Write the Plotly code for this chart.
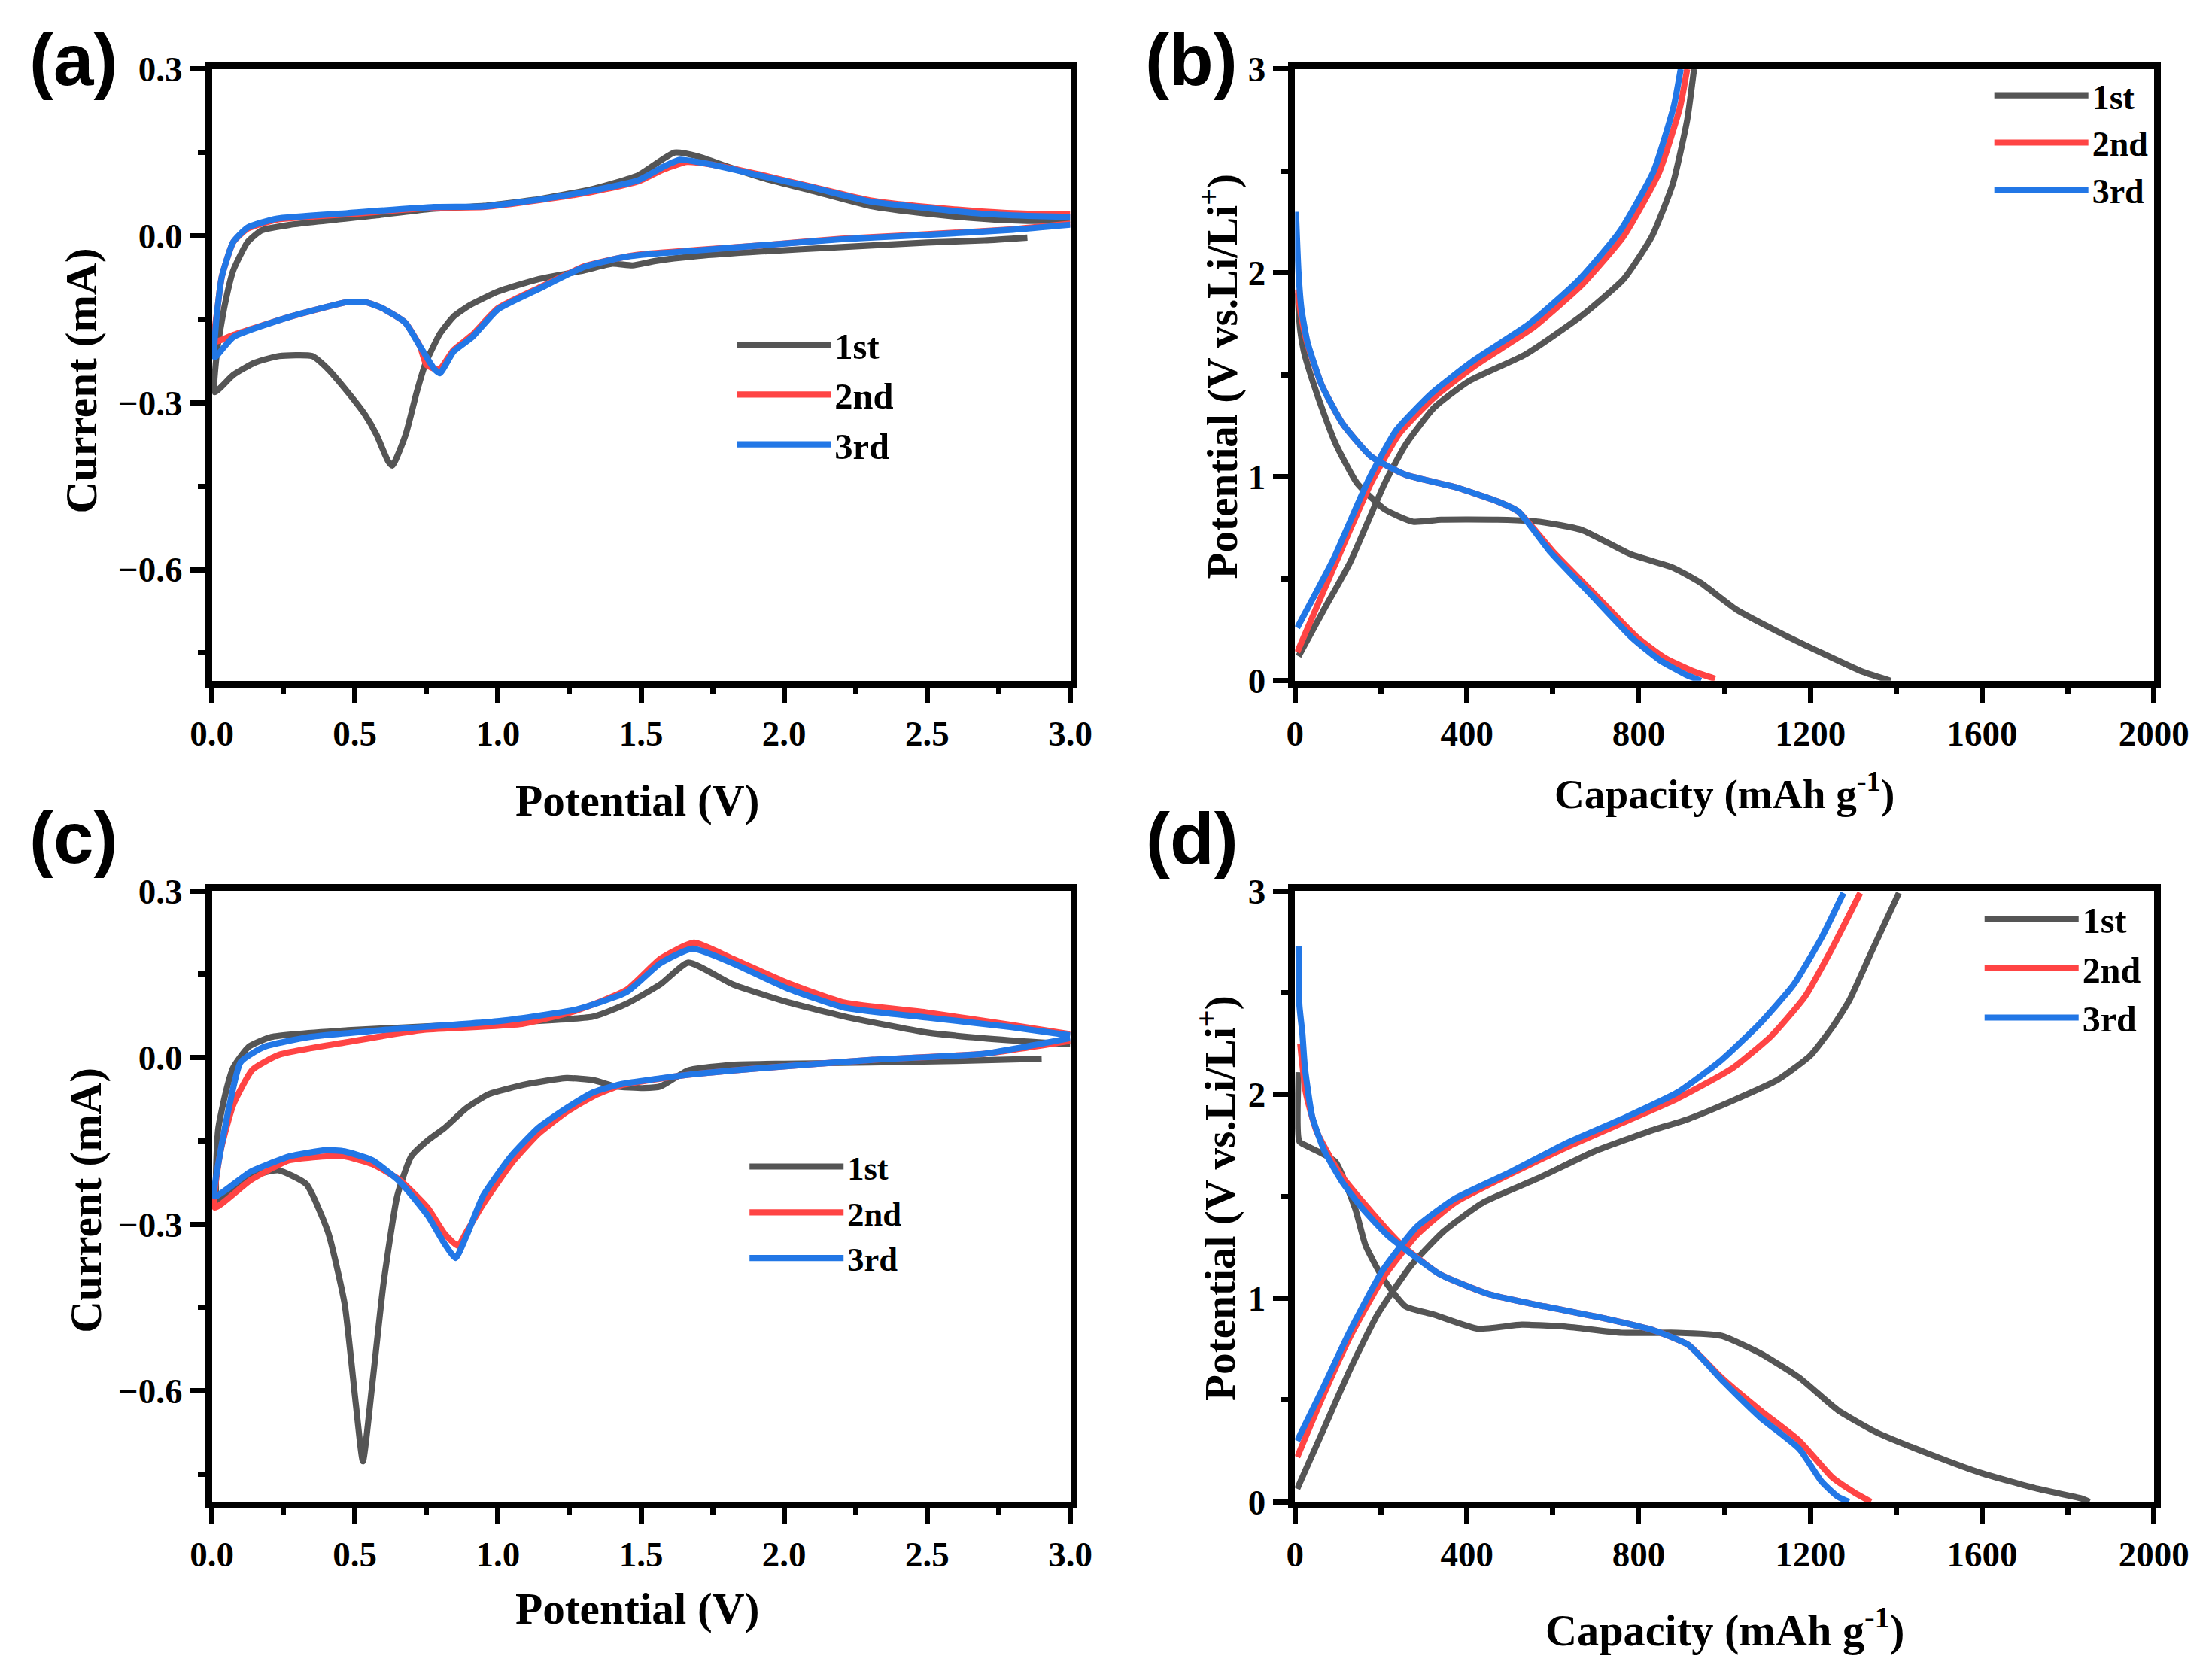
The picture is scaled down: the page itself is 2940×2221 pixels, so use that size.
import plotly.graph_objects as go

# ---------------- DATA ----------------
# Panel (a): CV curves (potential V, current mA); cathodic scan then anodic scan
a1_v = [2.85, 2.7, 2.5, 2.2, 1.92, 1.7, 1.55, 1.47, 1.40, 1.3, 1.14, 1.0, 0.9, 0.845, 0.797, 0.747, 0.716, 0.677, 0.631, 0.616, 0.576, 0.536, 0.475, 0.405, 0.35, 0.235, 0.15, 0.075, 0.01,
        0.02, 0.045, 0.075, 0.125, 0.174, 0.275, 0.576, 0.755, 0.95, 1.14, 1.336, 1.49, 1.617, 1.7, 1.8, 1.92, 2.1, 2.3, 2.5, 2.69, 2.85, 3.0]
a1_i = [-0.003, -0.008, -0.012, -0.02, -0.028, -0.036, -0.045, -0.053, -0.05, -0.062, -0.078, -0.10, -0.125, -0.145, -0.176, -0.229, -0.281, -0.358, -0.413, -0.405, -0.358, -0.322, -0.281, -0.239, -0.216, -0.216, -0.228, -0.25, -0.281,
        -0.2, -0.125, -0.062, -0.011, 0.01, 0.02, 0.037, 0.048, 0.054, 0.066, 0.085, 0.109, 0.150, 0.143, 0.125, 0.105, 0.081, 0.054, 0.04, 0.031, 0.027, 0.028]

a2_v = [3.0, 2.8, 2.5, 2.2, 1.92, 1.7, 1.5, 1.43, 1.3, 1.14, 1.0, 0.91, 0.845, 0.80, 0.785, 0.75, 0.727, 0.676, 0.596, 0.536, 0.475, 0.275, 0.075, 0.01,
        0.02, 0.035, 0.075, 0.125, 0.225, 0.475, 0.777, 0.95, 1.14, 1.336, 1.49, 1.58, 1.66, 1.75, 1.92, 2.1, 2.3, 2.5, 2.69, 2.85, 3.0]
a2_i = [0.022, 0.012, 0.003, -0.005, -0.017, -0.025, -0.033, -0.039, -0.055, -0.094, -0.13, -0.178, -0.205, -0.238, -0.24, -0.232, -0.198, -0.156, -0.13, -0.119, -0.119, -0.145, -0.178, -0.19,
        -0.13, -0.073, -0.011, 0.013, 0.029, 0.039, 0.051, 0.052, 0.064, 0.08, 0.098, 0.12, 0.133, 0.128, 0.11, 0.088, 0.064, 0.052, 0.044, 0.04, 0.04]

a3_v = [3.0, 2.8, 2.5, 2.2, 1.92, 1.7, 1.5, 1.43, 1.3, 1.14, 1.0, 0.91, 0.845, 0.797, 0.777, 0.727, 0.676, 0.596, 0.536, 0.475, 0.275, 0.075, 0.01,
        0.015, 0.035, 0.075, 0.125, 0.225, 0.475, 0.777, 0.95, 1.14, 1.336, 1.49, 1.58, 1.636, 1.75, 1.92, 2.1, 2.3, 2.5, 2.69, 2.85, 3.0]
a3_i = [0.02, 0.011, 0.002, -0.006, -0.017, -0.026, -0.034, -0.039, -0.056, -0.096, -0.132, -0.182, -0.208, -0.247, -0.239, -0.198, -0.156, -0.13, -0.119, -0.119, -0.145, -0.182, -0.218,
        -0.155, -0.073, -0.011, 0.015, 0.031, 0.041, 0.052, 0.053, 0.065, 0.082, 0.1, 0.125, 0.137, 0.128, 0.108, 0.087, 0.062, 0.05, 0.04, 0.036, 0.034]

# Panel (c): CV curves
c1_v = [2.9, 2.6, 2.3, 2.0, 1.82, 1.665, 1.568, 1.51, 1.41, 1.336, 1.24, 1.10, 0.968, 0.89, 0.813, 0.755, 0.697, 0.648, 0.60, 0.561, 0.528, 0.503, 0.464, 0.406, 0.33, 0.232, 0.15, 0.07, 0.019,
        0.022, 0.05, 0.075, 0.128, 0.208, 0.475, 0.742, 1.077, 1.336, 1.45, 1.568, 1.665, 1.82, 2.01, 2.21, 2.5, 2.79, 3.0]
c1_i = [-0.002, -0.006, -0.009, -0.011, -0.013, -0.023, -0.052, -0.055, -0.052, -0.041, -0.037, -0.048, -0.066, -0.091, -0.127, -0.149, -0.178, -0.249, -0.407, -0.587, -0.727, -0.623, -0.443, -0.314, -0.228, -0.203, -0.212, -0.235, -0.257,
        -0.13, -0.06, -0.018, 0.019, 0.037, 0.049, 0.056, 0.064, 0.074, 0.097, 0.132, 0.171, 0.132, 0.10, 0.074, 0.045, 0.031, 0.024]

c2_v = [3.0, 2.7, 2.31, 1.92, 1.665, 1.43, 1.336, 1.24, 1.14, 1.045, 0.948, 0.89, 0.86, 0.813, 0.755, 0.658, 0.561, 0.464, 0.40, 0.271, 0.135, 0.01,
        0.03, 0.075, 0.142, 0.235, 0.475, 0.742, 1.077, 1.277, 1.45, 1.568, 1.685, 1.82, 2.01, 2.21, 2.5, 2.79, 3.0]
c2_i = [0.03, 0.007, -0.004, -0.019, -0.031, -0.05, -0.069, -0.098, -0.138, -0.192, -0.264, -0.314, -0.339, -0.317, -0.271, -0.221, -0.192, -0.178, -0.178, -0.185, -0.221, -0.27,
        -0.17, -0.085, -0.022, 0.005, 0.028, 0.05, 0.06, 0.085, 0.122, 0.178, 0.207, 0.178, 0.135, 0.099, 0.081, 0.059, 0.042]

c3_v = [3.0, 2.7, 2.31, 1.92, 1.665, 1.43, 1.336, 1.24, 1.14, 1.045, 0.948, 0.89, 0.852, 0.813, 0.755, 0.658, 0.561, 0.464, 0.397, 0.271, 0.135, 0.01,
        0.03, 0.062, 0.101, 0.182, 0.342, 0.609, 1.01, 1.277, 1.45, 1.568, 1.68, 1.82, 2.01, 2.21, 2.5, 2.79, 3.0]
c3_i = [0.035, 0.007, -0.004, -0.019, -0.031, -0.048, -0.062, -0.091, -0.127, -0.178, -0.249, -0.321, -0.361, -0.335, -0.285, -0.224, -0.185, -0.169, -0.167, -0.178, -0.206, -0.25,
        -0.17, -0.085, -0.008, 0.019, 0.037, 0.05, 0.066, 0.087, 0.118, 0.17, 0.196, 0.17, 0.125, 0.09, 0.072, 0.055, 0.04]

# Panel (b): galvanostatic discharge / charge (capacity mAh g-1, potential V)
b1_dis_q = [5, 12, 20, 29, 62, 95, 144, 209, 275, 340, 471, 569, 667, 782, 880, 945, 1027, 1125, 1223, 1321, 1387]
b1_dis_v = [1.90, 1.72, 1.62, 1.55, 1.34, 1.16, 0.97, 0.84, 0.78, 0.79, 0.79, 0.78, 0.74, 0.62, 0.555, 0.48, 0.35, 0.24, 0.14, 0.045, 0.0]
b1_chg_q = [8, 70, 128, 209, 258, 324, 405, 536, 667, 765, 831, 880, 913, 929]
b1_chg_v = [0.12, 0.36, 0.58, 0.97, 1.16, 1.34, 1.47, 1.60, 1.79, 1.97, 2.18, 2.44, 2.75, 3.0]

b2_dis_q = [5, 15, 29, 62, 111, 177, 258, 373, 471, 520, 602, 700, 798, 863, 929, 978]
b2_dis_v = [1.92, 1.78, 1.65, 1.45, 1.26, 1.10, 1.01, 0.95, 0.88, 0.83, 0.63, 0.42, 0.21, 0.11, 0.045, 0.01]
b2_chg_q = [5, 95, 177, 242, 324, 422, 553, 667, 765, 847, 896, 913]
b2_chg_v = [0.14, 0.58, 0.97, 1.21, 1.39, 1.55, 1.73, 1.94, 2.18, 2.49, 2.81, 3.0]

b3_dis_q = [2, 8, 15, 29, 62, 111, 177, 258, 373, 471, 520, 595, 690, 785, 850, 910, 945]
b3_dis_v = [2.30, 2.00, 1.82, 1.66, 1.45, 1.26, 1.10, 1.01, 0.95, 0.88, 0.83, 0.63, 0.42, 0.21, 0.10, 0.03, 0.0]
b3_chg_q = [5, 90, 172, 236, 318, 415, 545, 658, 755, 835, 882, 898]
b3_chg_v = [0.26, 0.60, 0.99, 1.23, 1.41, 1.57, 1.75, 1.96, 2.20, 2.50, 2.82, 3.0]

# Panel (d): galvanostatic discharge / charge
d1_dis_q = [8, 10, 35, 94, 140, 164, 204, 257, 322, 425, 528, 631, 761, 890, 993, 1083, 1174, 1264, 1355, 1471, 1600, 1729, 1832, 1850]
d1_dis_v = [2.11, 1.77, 1.74, 1.67, 1.44, 1.26, 1.10, 0.96, 0.92, 0.85, 0.87, 0.86, 0.83, 0.83, 0.815, 0.73, 0.61, 0.45, 0.34, 0.24, 0.14, 0.064, 0.016, 0.0]
d1_chg_q = [5, 63, 128, 192, 270, 347, 438, 567, 696, 825, 916, 1019, 1122, 1199, 1251, 1290, 1342, 1406]
d1_chg_v = [0.064, 0.34, 0.65, 0.92, 1.16, 1.33, 1.47, 1.59, 1.72, 1.82, 1.88, 1.97, 2.07, 2.19, 2.33, 2.46, 2.70, 2.99]

d2_dis_q = [12, 25, 50, 102, 167, 244, 335, 451, 580, 722, 838, 916, 993, 1083, 1174, 1251, 1303, 1341]
d2_dis_v = [2.25, 2.01, 1.82, 1.62, 1.45, 1.27, 1.12, 1.02, 0.96, 0.90, 0.84, 0.77, 0.61, 0.45, 0.30, 0.12, 0.045, 0.0]
d2_chg_q = [5, 63, 128, 205, 283, 373, 502, 631, 761, 890, 1019, 1110, 1187, 1251, 1316]
d2_chg_v = [0.22, 0.51, 0.81, 1.10, 1.31, 1.47, 1.61, 1.74, 1.86, 1.98, 2.13, 2.29, 2.48, 2.72, 2.99]

d3_dis_q = [8, 10, 17, 23, 40, 69, 110, 157, 215, 335, 451, 580, 722, 838, 916, 993, 1083, 1174, 1226, 1264, 1290]
d3_dis_v = [2.73, 2.44, 2.30, 2.13, 1.89, 1.72, 1.57, 1.44, 1.31, 1.12, 1.02, 0.96, 0.90, 0.84, 0.77, 0.60, 0.415, 0.26, 0.10, 0.025, 0.0]
d3_chg_q = [5, 63, 128, 205, 283, 373, 502, 631, 761, 890, 993, 1083, 1161, 1226, 1277]
d3_chg_v = [0.30, 0.55, 0.84, 1.14, 1.35, 1.49, 1.62, 1.76, 1.88, 2.01, 2.17, 2.35, 2.54, 2.77, 2.99]

cycle_names = ["1st", "2nd", "3rd"]
colors = ["#555555", "#FF4444", "#2277E6"]

# ---------------- FIGURE ----------------
W, H = 2940, 2221
FONT = "Liberation Serif"

# the captured page shows the figure slightly reduced and offset; positions below are
# given in target-picture pixels and converted to figure pixels
OX, OY = 32.0, 30.0
SX, SY = 0.978, 0.979


def fx(xt):
    return (xt - OX) / SX / W


def fy(yt):
    return 1 - (yt - OY) / SY / H


def fs(size):
    return size / SX


fig = go.Figure()

xd_left = [fx(277.5), fx(1423)]
xd_right = [fx(1723), fx(2869)]
yd_top = [fy(903), fy(88)]
yd_bot = [fy(1997), fy(1183)]

LW = fs(8)


def add_cv(xa, ya, leg, series):
    for k, (v, i) in enumerate(series):
        fig.add_trace(go.Scatter(x=v, y=i, mode="lines", name=cycle_names[k],
                                 line=dict(color=colors[k], width=LW, shape="spline", smoothing=0.5),
                                 xaxis=xa, yaxis=ya, legend=leg))


def add_gcd(xa, ya, leg, series):
    for k, (dq, dv, cq, cv) in enumerate(series):
        xs = list(dq) + [None] + list(cq)
        ys = list(dv) + [None] + list(cv)
        fig.add_trace(go.Scatter(x=xs, y=ys, mode="lines", name=cycle_names[k],
                                 line=dict(color=colors[k], width=LW, shape="spline", smoothing=0.5),
                                 connectgaps=False, xaxis=xa, yaxis=ya, legend=leg))


add_cv("x", "y", "legend", [(a1_v, a1_i), (a2_v, a2_i), (a3_v, a3_i)])
add_gcd("x2", "y2", "legend2", [(b1_dis_q, b1_dis_v, b1_chg_q, b1_chg_v),
                                (b2_dis_q, b2_dis_v, b2_chg_q, b2_chg_v),
                                (b3_dis_q, b3_dis_v, b3_chg_q, b3_chg_v)])
add_cv("x3", "y3", "legend3", [(c1_v, c1_i), (c2_v, c2_i), (c3_v, c3_i)])
add_gcd("x4", "y4", "legend4", [(d1_dis_q, d1_dis_v, d1_chg_q, d1_chg_v),
                                (d2_dis_q, d2_dis_v, d2_chg_q, d2_chg_v),
                                (d3_dis_q, d3_dis_v, d3_chg_q, d3_chg_v)])

tickfont = dict(family=FONT, size=fs(46), color="black", weight="bold")


def axis(domain, rng, dtick, minor_dtick, fmt, anchor, tick0=0):
    return dict(domain=domain, range=rng, dtick=dtick, tick0=tick0, tickformat=fmt,
                showline=True, linecolor="black", linewidth=fs(9), mirror=True,
                ticks="outside", ticklen=fs(20), tickwidth=fs(7), tickcolor="black",
                minor=dict(dtick=minor_dtick, tick0=tick0, ticks="outside", ticklen=fs(9),
                           tickwidth=fs(7), tickcolor="black"),
                showgrid=False, zeroline=False, tickfont=tickfont, anchor=anchor, fixedrange=True)


fig.update_layout(
    width=W, height=H, margin=dict(l=0, r=0, t=0, b=0),
    paper_bgcolor="white", plot_bgcolor="white",
    xaxis=axis(xd_left, [0, 3.0], 0.5, 0.25, ".1f", "y"),
    yaxis=axis(yd_top, [-0.8, 0.3], 0.3, 0.15, ".1f", "x"),
    xaxis2=axis(xd_right, [0, 2000], 400, 200, "d", "y2"),
    yaxis2=axis(yd_top, [0, 3], 1, 0.5, "d", "x2"),
    xaxis3=axis(xd_left, [0, 3.0], 0.5, 0.25, ".1f", "y3"),
    yaxis3=axis(yd_bot, [-0.8, 0.3], 0.3, 0.15, ".1f", "x3"),
    xaxis4=axis(xd_right, [0, 2000], 400, 200, "d", "y4"),
    yaxis4=axis(yd_bot, [0, 3], 1, 0.5, "d", "x4"),
)


def legend(x_px, row1_px, size):
    top = row1_px - 0.88 * size
    return dict(x=fx(x_px), y=fy(top), xanchor="left", yanchor="top",
                font=dict(family=FONT, size=fs(size), color="black", weight="bold"),
                bgcolor="rgba(0,0,0,0)", borderwidth=0,
                itemwidth=int(round(fs(122))), tracegroupgap=0)


fig.update_layout(
    legend=legend(973, 459, 47.5),
    legend2=legend(2651, 126, 45),
    legend3=legend(990, 1553, 43.5),
    legend4=legend(2638, 1224, 47),
)

ann = []


def label(x_px, y_px, text, angle=0, size=58, family=FONT, xanchor="center"):
    font = dict(family=family, size=fs(size), color="black", weight="bold")
    ann.append(dict(x=fx(x_px), y=fy(y_px), xref="paper", yref="paper", text=text,
                    showarrow=False, textangle=angle, font=font, xanchor=xanchor, yanchor="middle"))


label(845, 1063, "Potential (V)")
label(845, 2139, "Potential (V)")
label(2296, 1050, "Capacity (mAh g<sup>-1</sup>)", size=54)
label(2296, 2165, "Capacity (mAh g<sup>-1</sup>)", size=57)
label(103, 503, "Current (mA)", -90)
label(109, 1595, "Current (mA)", -90)
label(1622, 497, "Potential (V vs.Li/Li<sup>+</sup>)", -90, size=56)
label(1618, 1592, "Potential (V vs.Li/Li<sup>+</sup>)", -90, size=56)

label(OX, 76, "(a)", size=94, family="Liberation Sans", xanchor="left")
label(1585, 76, "(b)", size=94, family="Liberation Sans")
label(OX, 1112, "(c)", size=94, family="Liberation Sans", xanchor="left")
label(1586, 1113, "(d)", size=94, family="Liberation Sans")

fig.update_layout(annotations=ann)
fig.write_html("out.html")
